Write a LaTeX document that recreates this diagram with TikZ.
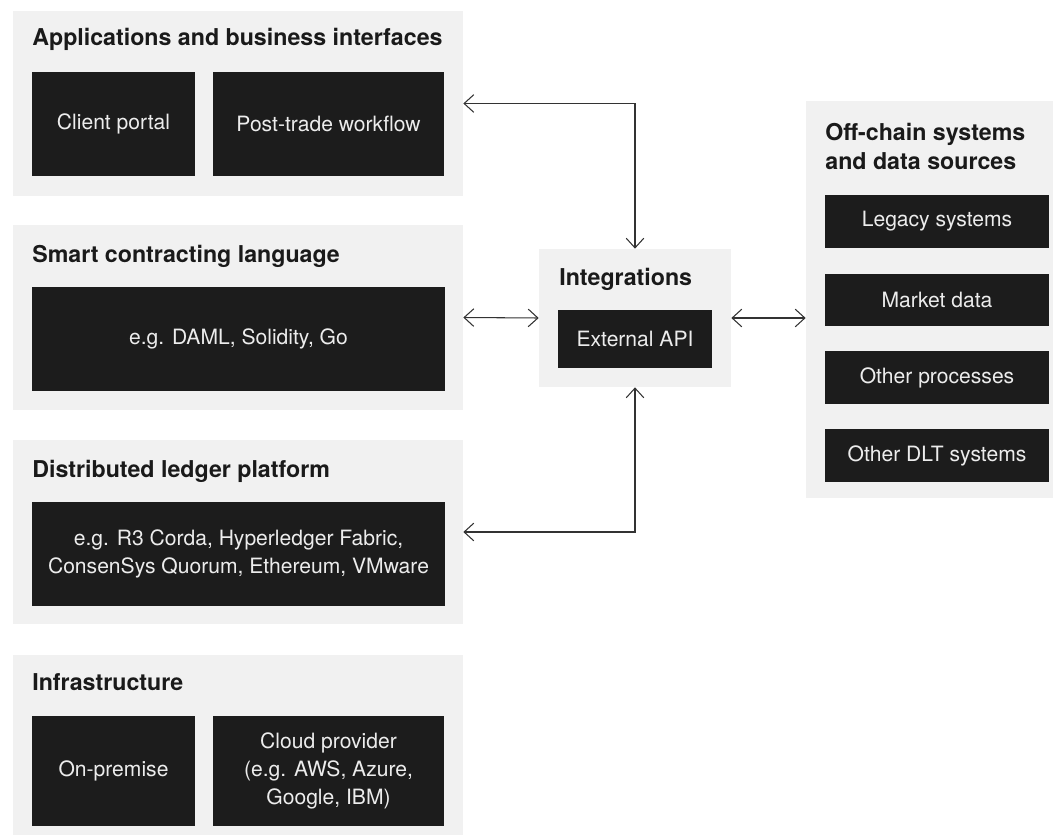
\documentclass[tikz,border=0pt]{standalone}
\usepackage{fontspec}
\setmainfont{TeX Gyre Heros}
\usetikzlibrary{arrows.meta}

\definecolor{panelgray}{HTML}{F1F1F1}
\definecolor{boxblack}{HTML}{1C1C1C}
\definecolor{boxtext}{HTML}{ECECEC}
\definecolor{titletext}{HTML}{1A1A1A}
\definecolor{linegray}{HTML}{333333}

\tikzset{
	panel/.style={fill=panelgray, inner sep=0pt},
	darkbox/.style={fill=boxblack, text=boxtext, inner sep=0pt, align=center, font=\fontsize{12}{16}\selectfont},
	heading/.style={anchor=base west, inner sep=0pt, text=titletext, align=left, font=\fontsize{13.2}{17}\selectfont\bfseries},
	link/.style={linegray, line width=0.6pt, {Straight Barb[length=5.5pt, width=10pt]}-{Straight Barb[length=5.5pt, width=10pt]}}
}

\begin{document}
\begin{tikzpicture}[x=0.02cm, y=-0.02cm]
	\useasboundingbox (0,0) rectangle (1053,834);
	\clip (0,0) rectangle (1053,834);

	% grey panels
	\node [panel, minimum width=9cm, minimum height=3.7cm] (apps) at (238,103.5) {};
	\node [panel, minimum width=9cm, minimum height=3.7cm] (smart) at (238,317.5) {};
	\node [panel, minimum width=9cm, minimum height=3.68cm] (dlt) at (238,532) {};
	\node [panel, minimum width=9cm, minimum height=3.8cm] (infra) at (238,750) {};
	\node [panel, minimum width=3.84cm, minimum height=2.76cm] (integ) at (635,318) {};
	\node [panel, minimum width=5.24cm, minimum height=7.94cm] (offchain) at (937,299.5) {};

	% headings
	\node [heading] (appstitle) at (32,46) {Applications and business interfaces};
	\node [heading] (smarttitle) at (32,262) {Smart contracting language};
	\node [heading] (dlttitle) at (32,477) {Distributed ledger platform};
	\node [heading] (infratitle) at (32,690) {Infrastructure};
	\node [heading] (integtitle) at (559,285) {Integrations};
	\node [heading] (offtitle) at (825,170) {Off-chain systems\\and data sources};

	% dark boxes
	\node [darkbox, minimum width=3.26cm, minimum height=2.08cm] (client) at (113.5,124) {Client portal};
	\node [darkbox, minimum width=4.62cm, minimum height=2.08cm] (post) at (328.5,124) {Post-trade workflow};
	\node [darkbox, minimum width=8.26cm, minimum height=2.08cm] (lang) at (238.5,339) {e.g. DAML, Solidity, Go};
	\node [darkbox, minimum width=8.26cm, minimum height=2.08cm] (ledger) at (238.5,554) {e.g. R3 Corda, Hyperledger Fabric,\\ConsenSys Quorum, Ethereum, VMware};
	\node [darkbox, minimum width=3.26cm, minimum height=2.2cm] (onprem) at (113.5,771) {On-premise};
	\node [darkbox, minimum width=4.62cm, minimum height=2.2cm] (cloud) at (328.5,771) {Cloud provider\\(e.g. AWS, Azure,\\Google, IBM)};
	\node [darkbox, minimum width=3.08cm, minimum height=1.16cm] (api) at (635,339) {External API};

	\node [darkbox, minimum width=4.48cm, minimum height=1.06cm] (legacy) at (937,221.5) {Legacy systems};
	\node [darkbox, minimum width=4.48cm, minimum height=1.06cm] (market) at (937,300) {Market data};
	\node [darkbox, minimum width=4.48cm, minimum height=1.06cm] (procs) at (937,377.5) {Other processes};
	\node [darkbox, minimum width=4.48cm, minimum height=1.06cm] (otherdlt) at (937,455.5) {Other DLT systems};

	% connectors
	\draw [link] (apps.east) -| (integ.north);
	\draw [link] (smart.east) -- (integ.west);
	\draw [link] (integ.east) -- (integ.east -| offchain.west);
	\draw [link] (dlt.east) -| (integ.south);
\end{tikzpicture}
\end{document}
